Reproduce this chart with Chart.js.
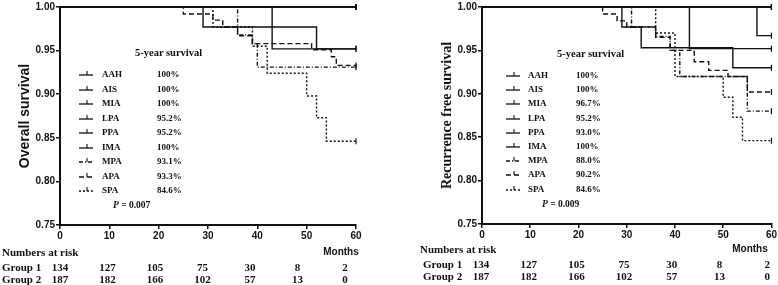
<!DOCTYPE html>
<html>
<head>
<meta charset="utf-8">
<script src="https://cdn.jsdelivr.net/npm/chart.js@4"></script>
<style>
  body { margin: 0; background: #fff; }
  #wrap { position: relative; width: 778px; height: 285px; overflow: hidden; }
  .cv { position: absolute; top: 0; }
  .t { position: absolute; font-family: "Liberation Serif", "Times New Roman", serif; font-weight: bold; color: #111; white-space: nowrap; line-height: 1; }
  .s { font-family: "Liberation Sans", Arial, sans-serif; }
</style>
</head>
<body>
<div id="wrap">
  <div class="cv" style="left:0;width:380px;height:250px"><canvas id="os"></canvas></div>
  <div class="cv" style="left:390px;width:388px;height:250px"><canvas id="rfs"></canvas></div>
</div>
<script>
// --- data ---
const groupNames = ['AAH', 'AIS', 'MIA', 'LPA', 'PPA', 'IMA', 'MPA', 'APA', 'SPA'];

// overall survival: event times (months) and survival after each step
const osTimes = [
  [0, 60], [0, 60], [0, 60],
  [0, 29, 52, 60],
  [0, 43, 60],
  [0, 60],
  [0, 36, 39, 40, 60],
  [0, 25, 31, 33, 36, 39, 51, 55, 56, 60],
  [0, 31, 39, 42, 50, 52, 54, 60]
];
const osSurv = [
  [1, 1], [1, 1], [1, 1],
  [1, 0.977, 0.952, 0.952],
  [1, 0.952, 0.952],
  [1, 1],
  [1, 0.968, 0.958, 0.931, 0.931],
  [1, 0.992, 0.985, 0.977, 0.967, 0.958, 0.951, 0.943, 0.933, 0.933],
  [1, 0.977, 0.955, 0.924, 0.898, 0.873, 0.846, 0.846]
];
const osFiveYear = ['100%', '100%', '100%', '95.2%', '95.2%', '100%', '93.1%', '93.3%', '84.6%'];

// recurrence free survival
const rfsTimes = [
  [0, 60], [0, 60],
  [0, 57, 60],
  [0, 43, 60],
  [0, 29, 33, 52, 60],
  [0, 60],
  [0, 31, 36, 39, 41, 55, 60],
  [0, 25, 28, 30, 36, 39, 44, 47, 51, 55, 60],
  [0, 36, 40, 50, 52, 54, 60]
];
const rfsSurv = [
  [1, 1], [1, 1],
  [1, 0.967, 0.967],
  [1, 0.952, 0.952],
  [1, 0.977, 0.953, 0.930, 0.930],
  [1, 1],
  [1, 0.977, 0.966, 0.950, 0.920, 0.880, 0.880],
  [1, 0.992, 0.984, 0.977, 0.965, 0.950, 0.937, 0.927, 0.920, 0.902, 0.902],
  [1, 0.970, 0.920, 0.896, 0.873, 0.846, 0.846]
];
const rfsFiveYear = ['100%', '100%', '96.7%', '95.2%', '93.0%', '100%', '88.0%', '90.2%', '84.6%'];

const xTicks = [0, 10, 20, 30, 40, 50, 60];
const yTicks = [0.75, 0.80, 0.85, 0.90, 0.95, 1.00];
const riskGroups = ['Group 1', 'Group 2'];
const riskGroup1 = [134, 127, 105, 75, 30, 8, 2];
const riskGroup2 = [187, 182, 166, 102, 57, 13, 0];

// --- styles ---
const dashes = [[], [], [], [], [], [], [4, 2, 1, 2], [5, 3], [2, 2]];
const ink = '#111';

function makeChart(id, times, surv, title, titleFamily, pad, yWidth) {
  const datasets = times.map((ts, i) => ({
    label: groupNames[i],
    data: ts.map((t, j) => ({ x: t, y: surv[i][j] })),
    stepped: true,
    borderColor: ink,
    borderWidth: 1.4,
    borderDash: dashes[i],
    pointStyle: 'line',
    rotation: 90,
    pointBorderColor: ink,
    pointBorderWidth: 1.2,
    pointRadius: ctx => ctx.dataIndex === ts.length - 1 ? 3 : 0,
    pointHoverRadius: 0,
    fill: false,
    clip: false
  }));
  return new Chart(document.getElementById(id), {
    type: 'line',
    data: { datasets },
    options: {
      responsive: true,
      maintainAspectRatio: false,
      animation: false,
      layout: { padding: pad },
      plugins: { legend: { display: false }, tooltip: { enabled: false } },
      scales: {
        x: {
          type: 'linear', min: 0, max: 60,
          afterBuildTicks: s => { s.ticks = xTicks.map(v => ({ value: v })); },
          afterFit: s => { s.height = 20; },
          grid: { drawOnChartArea: false, drawTicks: true, tickLength: 4, color: ink, lineWidth: 1.5 },
          border: { display: true, color: ink, width: 2 },
          ticks: { color: ink, padding: 1, font: { family: 'Liberation Sans', size: 10, weight: 'bold' } }
        },
        y: {
          type: 'linear', min: 0.75, max: 1.0,
          afterBuildTicks: s => { s.ticks = yTicks.map(v => ({ value: v })); },
          afterFit: s => { s.width = yWidth; },
          grid: { drawOnChartArea: false, drawTicks: true, tickLength: 4, color: ink, lineWidth: 1.5 },
          border: { display: true, color: ink, width: 2 },
          ticks: { color: ink, padding: 1, callback: v => v.toFixed(2), font: { family: 'Liberation Sans', size: 10, weight: 'bold' } },
          title: { display: true, text: title, color: ink, padding: { top: 4, bottom: 0 }, font: { family: titleFamily, size: 14, weight: 'bold' } }
        }
      }
    }
  });
}

makeChart('os', osTimes, osSurv, 'Overall survival', 'Liberation Sans', { left: 13, top: 5, right: 24, bottom: 5 }, 47);
makeChart('rfs', rfsTimes, rfsSurv, 'Recurrence free survival', 'Liberation Serif', { left: 45, top: 7, right: 6, bottom: 6 }, 47);

// --- legend and risk table as text ---
const wrap = document.getElementById('wrap');
function txt(x, y, s, size, opts = {}) {
  const d = document.createElement('div');
  d.className = 't' + (opts.sans ? ' s' : '');
  d.style.left = x + 'px';
  d.style.top = y + 'px';
  d.style.fontSize = size + 'px';
  d.style.transform = opts.center ? 'translate(-50%,-50%)' : 'translateY(-50%)';
  if (opts.html) d.innerHTML = s; else d.textContent = s;
  wrap.appendChild(d);
}
function symbol(x, y, dash) {
  const ns = 'http://www.w3.org/2000/svg';
  const svg = document.createElementNS(ns, 'svg');
  svg.setAttribute('width', 14);
  svg.setAttribute('height', 8);
  svg.style.position = 'absolute';
  svg.style.left = x + 'px';
  svg.style.top = (y - 4) + 'px';
  const l = document.createElementNS(ns, 'line');
  l.setAttribute('x1', 0); l.setAttribute('x2', 14);
  l.setAttribute('y1', 5); l.setAttribute('y2', 5);
  l.setAttribute('stroke', ink); l.setAttribute('stroke-width', 1.3);
  if (dash.length) l.setAttribute('stroke-dasharray', dash.join(' '));
  const t = document.createElementNS(ns, 'line');
  t.setAttribute('x1', 8); t.setAttribute('x2', 8);
  t.setAttribute('y1', 1); t.setAttribute('y2', 5);
  t.setAttribute('stroke', ink); t.setAttribute('stroke-width', 1.1);
  svg.appendChild(l); svg.appendChild(t);
  wrap.appendChild(svg);
}

function panelText(p, fiveYear, pValue) {
  txt(p.titleX, p.titleY, '5-year survival', 10.5);
  groupNames.forEach((g, i) => {
    const y = p.rowY + i * p.rowDy;
    symbol(p.symX, y, dashes[i]);
    txt(p.labX, y, g, 9);
    txt(p.pctX, y, fiveYear[i], 9);
  });
  txt(p.pX, p.pY, '<i>P</i> = ' + pValue, 9.5, { html: true });
  txt(p.headX, p.headY, 'Numbers at risk', 11);
  txt(p.monthsX, p.headY, 'Months', 10, { sans: true, center: true });
  [riskGroup1, riskGroup2].forEach((row, r) => {
    const y = p.riskY + r * p.riskDy;
    txt(p.groupX, y, riskGroups[r], 11);
    row.forEach((n, k) => txt(p.numX + k * p.numDx, y, String(n), 11, { center: true }));
  });
}

panelText({ titleX: 135, titleY: 53, rowY: 74, rowDy: 14.5, symX: 79, labX: 102, pctX: 157, pX: 113, pY: 206,
  headX: 2, headY: 252, monthsX: 341, riskY: 267, riskDy: 12, groupX: 2, numX: 60, numDx: 47.5 }, osFiveYear, '0.007');
panelText({ titleX: 557, titleY: 54, rowY: 75, rowDy: 14.2, symX: 506, labX: 528, pctX: 576, pX: 542, pY: 205,
  headX: 420, headY: 249, monthsX: 750, riskY: 264, riskDy: 12, groupX: 423, numX: 481, numDx: 47.7 }, rfsFiveYear, '0.009');
</script>
</body>
</html>
